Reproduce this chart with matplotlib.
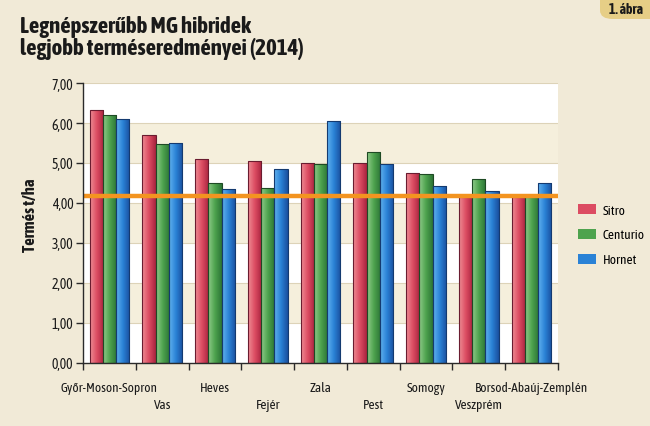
import matplotlib
matplotlib.use("Agg")
import matplotlib.pyplot as plt
import matplotlib.patches as mpatches
from matplotlib.colors import LinearSegmentedColormap
import matplotlib.transforms as mtransforms
import numpy as np

# Data (t/ha)
regions = ["Győr-Moson-Sopron", "Vas", "Heves", "Fejér", "Zala", "Pest",
           "Somogy", "Veszprém", "Borsod-Abaúj-Zemplén"]
hybrids = ["Sitro", "Centurio", "Hornet"]
sitro = [6.32, 5.69, 5.10, 5.04, 4.99, 4.99, 4.75, 4.16, 4.15]
centurio = [6.20, 5.47, 4.50, 4.37, 4.97, 5.27, 4.72, 4.61, 4.16]
hornet = [6.10, 5.51, 4.36, 4.85, 6.05, 4.97, 4.42, 4.30, 4.50]
average = 4.18
y_ticks = [0, 1, 2, 3, 4, 5, 6, 7]

# style
fig_bg = '#f1ead7'
band_bg = '#f5efdc'
plt.rcParams['font.family'] = ['Asap Condensed', 'DejaVu Sans']
series_colors = {
    "Sitro": ['#ee8c94', '#dc4c62', '#a8243f'],
    "Centurio": ['#8fcc8a', '#4ea34e', '#2c7436'],
    "Hornet": ['#62b2ef', '#2a82d6', '#1a4f9e'],
}
edge_colors = {"Sitro": '#6a1c30', "Centurio": '#1e4a24', "Hornet": '#143a70'}
txt = '#1a1a1a'

fig = plt.figure(figsize=(6.5, 4.27), dpi=100)
fig.patch.set_facecolor(fig_bg)
ax = fig.add_axes([83/650, 1-364/427, 475/650, 280/427])
ax.set_facecolor('white')

# alternating background bands
for lo in range(0, 7):
    if lo % 2 == 1:
        ax.axhspan(lo, lo + 1, color=band_bg, zorder=0, lw=0)
    ax.axhline(lo + 1, color='#ddd3b8', lw=0.8, zorder=0.5)

n = len(regions)
x = np.arange(n)
w = 0.25
values = [sitro, centurio, hornet]
grad = np.linspace(0, 1, 64).reshape(1, -1)
for i, (name, vals) in enumerate(zip(hybrids, values)):
    cmap = LinearSegmentedColormap.from_list(name, series_colors[name])
    bars = ax.bar(x + (i - 1) * w, vals, width=w, color='none',
                  edgecolor=edge_colors[name], linewidth=0.8, zorder=3)
    for b in bars:
        bx, bw, bh = b.get_x(), b.get_width(), b.get_height()
        im = ax.imshow(grad, extent=[bx, bx + bw, 0, bh], cmap=cmap,
                       aspect='auto', zorder=2, interpolation='bilinear')
        im.set_clip_path(b)

ax.axhline(average, color='#f39420', lw=3.2, zorder=4)

ax.set_xlim(-0.5, n - 0.5)
ax.set_ylim(0, 7)

# axes look
for s in ['top', 'right']:
    ax.spines[s].set_visible(False)
for s in ['left', 'bottom']:
    ax.spines[s].set_color('#2a2a2a')
    ax.spines[s].set_linewidth(1.0)
    ax.spines[s].set_zorder(5)

ax.set_yticks(y_ticks)
ax.set_yticklabels([f"{v:.2f}".replace('.', ',') for v in y_ticks], fontsize=10,
                   color=txt)
ax.tick_params(axis='y', length=5, width=1, color='#2a2a2a', pad=2)
ax.set_xticks(np.arange(n + 1) - 0.5)
ax.set_xticklabels([])
ax.tick_params(axis='x', length=5, width=1, color='#2a2a2a')

trans = mtransforms.blended_transform_factory(ax.transData, ax.transAxes)
for i, r in enumerate(regions):
    yoff = -25/280 if i % 2 == 0 else -42/280
    ax.text(i, yoff, r, transform=trans, ha='center', va='center',
            fontsize=9.5, color=txt)

fig.text(30/650, 1-215/427, "Termés t/ha", rotation=90, ha='center', va='center',
         fontsize=12, fontweight='bold', color=txt)

fig.text(20/650, 1-38/427, "Legnépszerűbb MG hibridek\nlegjobb terméseredményei (2014)",
         ha='left', va='center', fontsize=16.5, fontweight='bold', color=txt,
         linespacing=1.0)

# figure tag in the corner
tag = mpatches.FancyBboxPatch((600/650, 1-20/427), 80/650, 40/427,
                              boxstyle="round,pad=0,rounding_size=0.02",
                              transform=fig.transFigure, facecolor='#e6ce86',
                              edgecolor='none', zorder=1)
fig.patches.append(tag)
fig.text(626/650, 1-10/427, "1. ábra", ha='center', va='center', fontsize=10,
         fontweight='bold', color=txt)

handles = [mpatches.Patch(facecolor=series_colors[h][1], edgecolor='none', label=h)
           for h in hybrids]
fig.legend(handles=handles, loc='center left', bbox_to_anchor=(566/650, 1-236/427),
           frameon=False, fontsize=9.5, handlelength=1.4, handleheight=0.8,
           labelspacing=0.9, handletextpad=0.5)

fig.savefig("out.png", dpi=100, facecolor=fig_bg)
